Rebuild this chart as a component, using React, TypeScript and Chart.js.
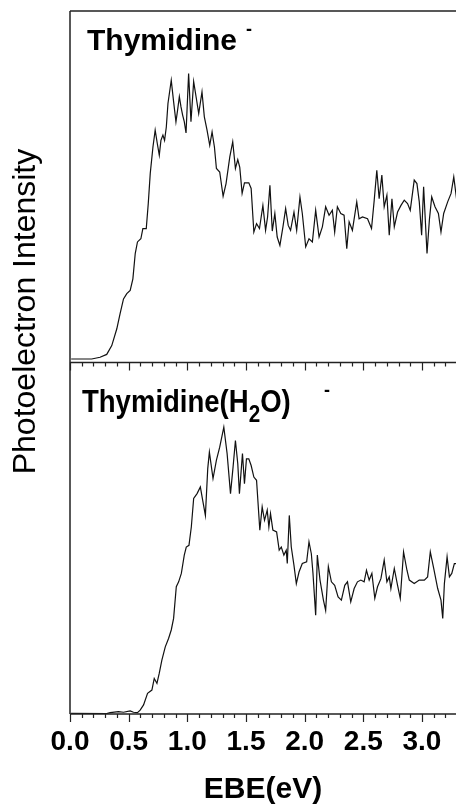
import React, { useEffect, useRef } from "react";
import { Chart, registerables } from "chart.js";

Chart.register(...registerables);

// ---- Data (EBE in eV, relative photoelectron intensity) ----
const topEnergy = [
  0.01, 0.185, 0.256, 0.313, 0.356, 0.399, 0.427, 0.456, 0.484, 0.513, 0.536, 0.556, 0.575, 0.604, 0.621, 0.65,
  0.667, 0.684, 0.707, 0.726, 0.744, 0.761, 0.775, 0.792, 0.806, 0.821, 0.835, 0.863, 0.883, 0.903, 0.917, 0.932,
  0.946, 0.96, 0.974, 0.989, 1.011, 1.031, 1.054, 1.077, 1.097, 1.125, 1.145, 1.168, 1.191, 1.211, 1.231, 1.248,
  1.276, 1.305, 1.33, 1.362, 1.387, 1.41, 1.43, 1.447, 1.467, 1.487, 1.524, 1.544, 1.567, 1.59, 1.615, 1.644,
  1.667, 1.684, 1.704, 1.724, 1.746, 1.766, 1.789, 1.815, 1.838, 1.86, 1.88, 1.909, 1.932, 1.96, 1.98, 2.009,
  2.037, 2.066, 2.094, 2.123, 2.151, 2.179, 2.208, 2.236, 2.256, 2.279, 2.308, 2.336, 2.359, 2.379, 2.407, 2.444,
  2.464, 2.493, 2.536, 2.57, 2.593, 2.615, 2.635, 2.658, 2.678, 2.701, 2.721, 2.744, 2.764, 2.792, 2.821, 2.849,
  2.877, 2.9, 2.934, 2.957, 2.977, 2.997, 3.014, 3.043, 3.063, 3.083, 3.111, 3.14, 3.162, 3.185, 3.219, 3.248,
  3.271, 3.296,
];
const topIntensity = [
  1.0, 1.0, 1.5, 2.3, 4.8, 9.6, 13.9, 18.1, 19.6, 20.5, 23.8, 31.0, 34.3, 35.2, 38.1, 38.1,
  45.2, 53.8, 61.3, 66.1, 62.3, 59.0, 63.2, 64.7, 63.2, 67.0, 73.7, 80.3, 74.2, 68.5, 71.8, 75.6,
  72.7, 70.4, 68.5, 65.3, 82.2, 68.5, 79.9, 75.1, 70.8, 77.0, 69.9, 66.1, 61.8, 65.6, 61.3, 55.2,
  54.2, 47.3, 50.9, 58.5, 62.8, 55.2, 57.7, 55.5, 48.1, 51.1, 51.1, 49.5, 37.1, 39.5, 38.1, 44.7,
  37.6, 41.4, 50.4, 37.4, 42.4, 35.7, 33.3, 38.6, 43.8, 39.0, 37.6, 42.8, 37.6, 47.1, 42.4, 32.9,
  35.2, 34.3, 43.3, 35.7, 38.6, 44.3, 41.9, 43.3, 37.1, 44.3, 42.4, 41.9, 32.4, 40.0, 37.6, 45.7,
  40.9, 41.4, 40.9, 38.1, 46.2, 54.7, 46.6, 53.3, 44.3, 47.6, 36.2, 46.6, 38.6, 42.8, 44.7, 46.2,
  45.2, 43.3, 51.9, 50.9, 45.7, 36.2, 50.0, 31.0, 40.5, 47.1, 44.3, 42.4, 37.1, 42.4, 45.7, 48.1,
  52.8, 46.2,
];

const bottomEnergy = [
  0.009, 0.313, 0.342, 0.413, 0.456, 0.513, 0.541, 0.575, 0.598, 0.627, 0.661, 0.698, 0.718, 0.741, 0.761, 0.783,
  0.812, 0.84, 0.863, 0.883, 0.906, 0.926, 0.949, 0.974, 0.991, 1.014, 1.034, 1.054, 1.083, 1.111, 1.131, 1.154,
  1.174, 1.188, 1.219, 1.248, 1.276, 1.311, 1.339, 1.368, 1.39, 1.41, 1.43, 1.444, 1.47, 1.487, 1.504, 1.524,
  1.544, 1.567, 1.59, 1.618, 1.638, 1.658, 1.681, 1.695, 1.709, 1.729, 1.761, 1.783, 1.801, 1.823, 1.843, 1.852,
  1.869, 1.886, 1.909, 1.929, 1.952, 1.98, 2.017, 2.037, 2.057, 2.071, 2.094, 2.108, 2.131, 2.16, 2.179, 2.202,
  2.228, 2.256, 2.285, 2.313, 2.342, 2.365, 2.393, 2.422, 2.45, 2.479, 2.507, 2.527, 2.55, 2.573, 2.598, 2.621,
  2.65, 2.678, 2.701, 2.721, 2.735, 2.764, 2.792, 2.815, 2.843, 2.872, 2.892, 2.934, 2.977, 3.02, 3.048, 3.071,
  3.1, 3.134, 3.162, 3.177, 3.191, 3.214, 3.234, 3.254, 3.276, 3.296,
];
const bottomIntensity = [
  0.2, 0.1, 0.4, 0.7, 0.5, 0.9, 0.5, 0.4, 1.1, 2.6, 5.9, 6.8, 10.1, 8.7, 11.6, 15.3,
  19.1, 21.5, 23.9, 27.2, 36.2, 37.6, 40.0, 45.2, 47.5, 48.0, 53.2, 61.3, 62.7, 64.6, 60.8, 56.5,
  69.8, 74.5, 67.0, 72.2, 75.9, 81.6, 74.1, 62.7, 70.3, 77.8, 71.2, 62.7, 74.1, 65.5, 72.6, 72.6,
  70.7, 67.4, 66.5, 52.3, 58.9, 55.1, 58.0, 53.2, 57.0, 52.3, 51.8, 46.6, 47.5, 45.2, 46.6, 42.8,
  56.5, 47.5, 42.3, 37.1, 40.4, 42.8, 43.3, 49.0, 45.6, 40.0, 28.1, 45.2, 38.1, 32.4, 29.5, 41.9,
  37.6, 36.6, 33.3, 32.4, 36.6, 37.6, 31.9, 35.7, 37.6, 38.1, 37.6, 40.9, 38.1, 40.0, 32.9, 36.2,
  38.5, 43.8, 37.6, 39.0, 35.7, 41.4, 36.6, 32.9, 46.1, 40.9, 38.1, 37.1, 38.1, 38.1, 39.0, 46.1,
  41.4, 35.7, 32.4, 27.2, 37.1, 44.7, 39.0, 40.0, 42.8, 42.8,
];

const xTickLabels = ["0.0", "0.5", "1.0", "1.5", "2.0", "2.5", "3.0"];
const topLabel = "Thymidine";
const bottomLabelParts = ["Thymidine(H", "2", "O)"];
const chargeLabel = "-";
const yTitle = "Photoelectron Intensity";
const xTitle = "EBE(eV)";

const FONT = '"Liberation Sans", Arial, Helvetica, sans-serif';

const framePlugin = {
  id: "frame",
  afterDraw(chart: any) {
    const { ctx, chartArea } = chart;
    const { left, right, top, bottom } = chartArea;
    const x = chart.scales.x;
    const mid = chart.scales.yTop.getPixelForValue(0);
    ctx.save();
    ctx.strokeStyle = "#222";
    ctx.lineWidth = 1.5;
    ctx.beginPath();
    ctx.moveTo(left, top);
    ctx.lineTo(left, bottom);
    ctx.moveTo(left, top);
    ctx.lineTo(right, top);
    ctx.moveTo(left, mid);
    ctx.lineTo(right, mid);
    ctx.moveTo(left, bottom);
    ctx.lineTo(right, bottom);
    ctx.stroke();
    // tick marks: minor every 0.1, major every 0.5, pointing down
    ctx.lineWidth = 1.2;
    ctx.beginPath();
    for (let i = 0; i <= 40; i++) {
      const v = i / 10;
      if (v > x.max) break;
      const px = Math.round(x.getPixelForValue(v)) + 0.5;
      const len = i % 5 === 0 ? 8 : 4;
      ctx.moveTo(px, mid);
      ctx.lineTo(px, mid + len);
      ctx.moveTo(px, bottom);
      ctx.lineTo(px, bottom + len);
    }
    ctx.stroke();

    // panel labels
    ctx.fillStyle = "#000";
    ctx.textBaseline = "alphabetic";
    ctx.textAlign = "left";
    ctx.font = `bold 30px ${FONT}`;
    ctx.fillText(topLabel, 87, 50);
    ctx.font = `bold 18px ${FONT}`;
    ctx.fillText(chargeLabel, 246, 35);

    ctx.save();
    ctx.translate(82, 412);
    ctx.scale(0.86, 1);
    ctx.font = `bold 32px ${FONT}`;
    ctx.fillText(bottomLabelParts[0], 0, 0);
    let w = ctx.measureText(bottomLabelParts[0]).width;
    ctx.font = `bold 24px ${FONT}`;
    ctx.fillText(bottomLabelParts[1], w, 10);
    w += ctx.measureText(bottomLabelParts[1]).width;
    ctx.font = `bold 32px ${FONT}`;
    ctx.fillText(bottomLabelParts[2], w, 0);
    ctx.restore();
    ctx.font = `bold 18px ${FONT}`;
    ctx.fillText(chargeLabel, 324, 396);

    // y title
    ctx.save();
    ctx.translate(35, 311.5);
    ctx.rotate(-Math.PI / 2);
    ctx.textAlign = "center";
    ctx.font = `32px ${FONT}`;
    ctx.fillText(yTitle, 0, 0);
    ctx.restore();

    ctx.restore();
  },
};

export default function App() {
  const canvasRef = useRef<HTMLCanvasElement | null>(null);

  useEffect(() => {
    const canvas = canvasRef.current;
    if (!canvas) return;
    const chart = new Chart(canvas, {
      type: "line",
      data: {
        datasets: [
          {
            label: "Thymidine-",
            data: topEnergy.map((e, i) => ({ x: e, y: topIntensity[i] })),
            yAxisID: "yTop",
            borderColor: "#111",
            borderWidth: 1.2,
            pointRadius: 0,
            tension: 0,
            fill: false,
          },
          {
            label: "Thymidine(H2O)-",
            data: bottomEnergy.map((e, i) => ({ x: e, y: bottomIntensity[i] })),
            yAxisID: "yBottom",
            borderColor: "#111",
            borderWidth: 1.2,
            pointRadius: 0,
            tension: 0,
            fill: false,
          },
        ],
      },
      options: {
        responsive: false,
        animation: false,
        devicePixelRatio: 1,
        layout: { padding: { left: 70, top: 11, right: 0, bottom: 0 } },
        plugins: {
          legend: { display: false },
          tooltip: { enabled: false },
        },
        scales: {
          x: {
            type: "linear",
            position: "bottom",
            min: 0,
            max: 3.29,
            grid: { display: false, drawTicks: false },
            border: { display: false },
            afterFit: (scale: any) => {
              scale.height = 92;
            },
            ticks: {
              stepSize: 0.5,
              includeBounds: false,
              autoSkip: false,
              maxRotation: 0,
              padding: 14,
              color: "#000",
              font: { family: FONT, size: 28, weight: "bold", lineHeight: 1 },
              callback: (v: any) => {
                const i = Math.round(Number(v) / 0.5);
                return xTickLabels[i] ?? "";
              },
            },
            title: {
              display: true,
              text: xTitle,
              color: "#000",
              font: { family: FONT, size: 30, weight: "bold", lineHeight: 1 },
              padding: { top: 0, bottom: 1 },
            },
          },
          yTop: {
            type: "linear",
            display: false,
            min: -100,
            max: 100,
          },
          yBottom: {
            type: "linear",
            display: false,
            min: 0,
            max: 200,
          },
        },
      },
      plugins: [framePlugin],
    });
    return () => chart.destroy();
  }, []);

  return (
    <div style={{ position: "absolute", left: 0, top: 0, width: 456, height: 806, background: "#fff" }}>
      <canvas ref={canvasRef} width={456} height={806} style={{ display: "block" }} />
    </div>
  );
}
